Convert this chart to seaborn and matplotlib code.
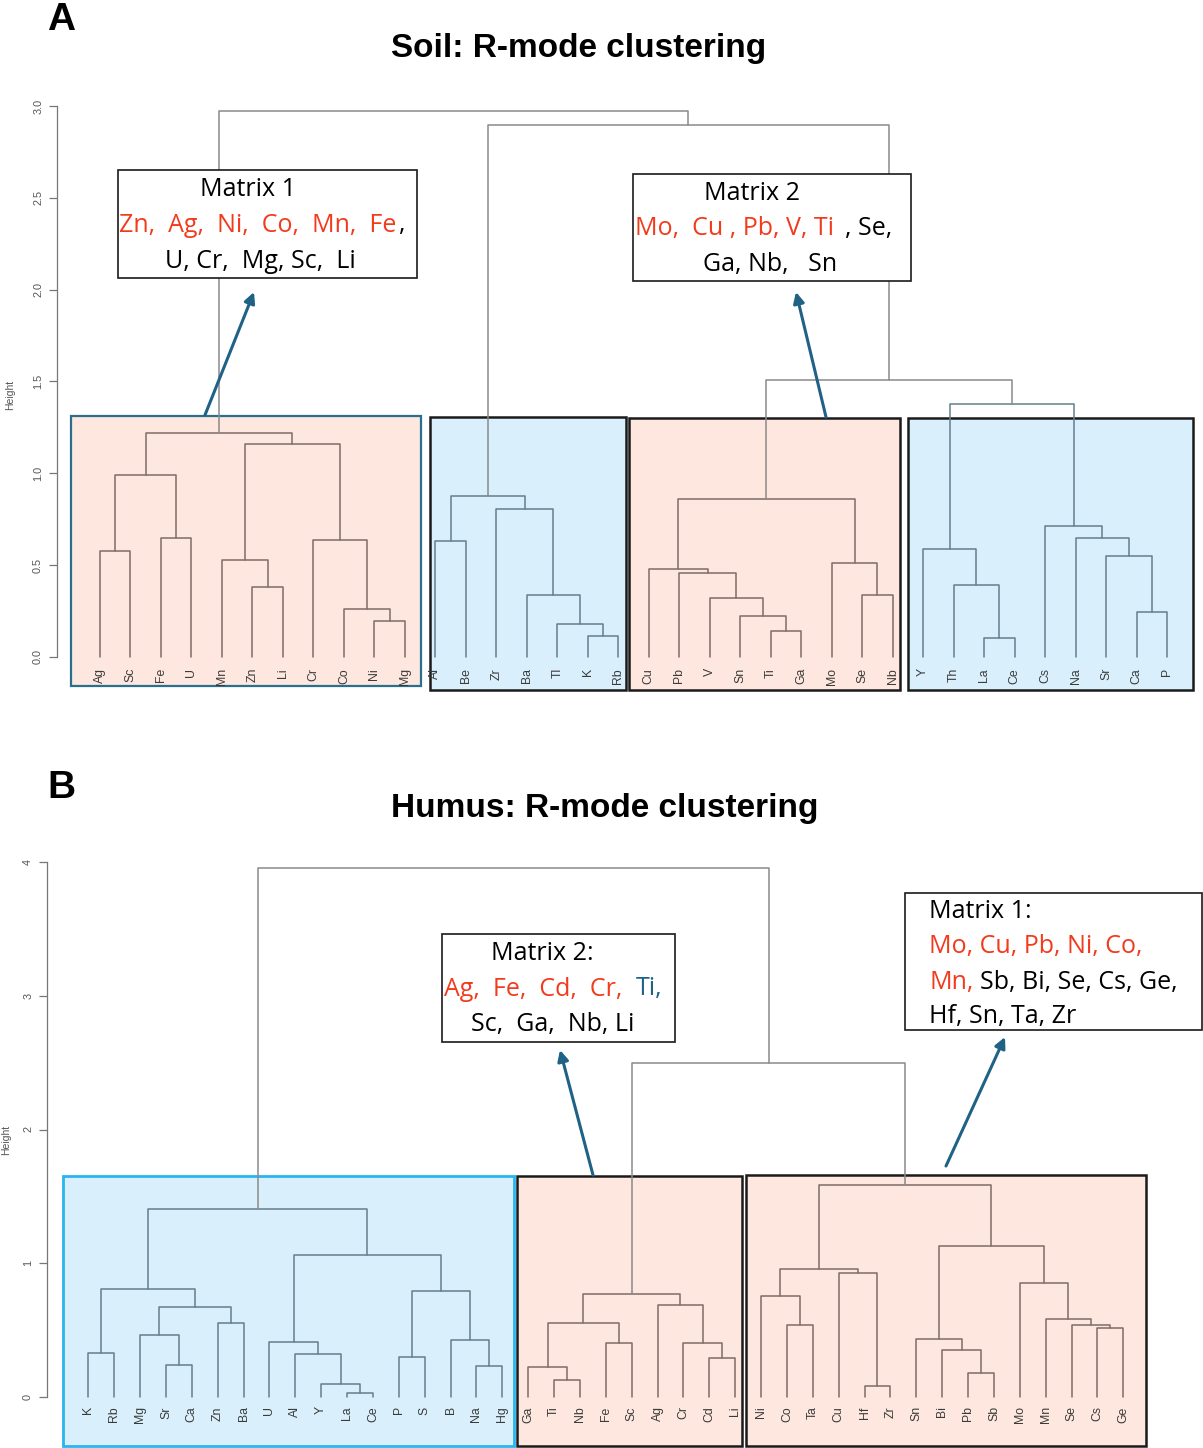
import numpy as np
import pandas as pd
import matplotlib
matplotlib.use("Agg")
import matplotlib.pyplot as plt
import matplotlib.transforms as mtransforms
from matplotlib.patches import Rectangle, FancyArrowPatch
import seaborn as sns

# ---------------- data: Soil (panel A) ----------------
soil_leaves = ["Ag", "Sc", "Fe", "U", "Mn", "Zn", "Li", "Cr", "Co", "Ni", "Mg",
               "Al", "Be", "Zr", "Ba", "Tl", "K", "Rb",
               "Cu", "Pb", "V", "Sn", "Ti", "Ga", "Mo", "Se", "Nb",
               "Y", "Th", "La", "Ce", "Cs", "Na", "Sr", "Ca", "P"]
soil_groups = [["Ag", "Sc", "Fe", "U", "Mn", "Zn", "Li", "Cr", "Co", "Ni", "Mg"],
               ["Al", "Be", "Zr", "Ba", "Tl", "K", "Rb"],
               ["Cu", "Pb", "V", "Sn", "Ti", "Ga", "Mo", "Se", "Nb"],
               ["Y", "Th", "La", "Ce", "Cs", "Na", "Sr", "Ca", "P"]]
soil_group_kind = ["pink", "blue", "pink", "blue"]
# merges: (child a, child b, height); int = index of an earlier merge
soil_merges = [
    ("Ag", "Sc", 0.575), ("Fe", "U", 0.648), (0, 1, 0.992),
    ("Zn", "Li", 0.380), ("Mn", 3, 0.528), ("Ni", "Mg", 0.196),
    ("Co", 5, 0.261), ("Cr", 6, 0.638), (4, 7, 1.160), (2, 8, 1.218),
    ("K", "Rb", 0.114), ("Tl", 10, 0.181), ("Ba", 11, 0.335),
    ("Zr", 12, 0.804), ("Al", "Be", 0.631), (14, 13, 0.876),
    ("Ti", "Ga", 0.141), ("Sn", 16, 0.224), ("V", 17, 0.320),
    ("Pb", 18, 0.458), ("Cu", 19, 0.481), ("Se", "Nb", 0.340),
    ("Mo", 21, 0.510), (20, 22, 0.862),
    ("La", "Ce", 0.106), ("Th", 24, 0.391), ("Y", 25, 0.590),
    ("Ca", "P", 0.245), ("Sr", 27, 0.550), ("Na", 28, 0.650),
    ("Cs", 29, 0.715), (26, 30, 1.376), (23, 31, 1.508),
    (15, 32, 2.895), (9, 33, 2.972),
]
soil_ticks = [0.0, 0.5, 1.0, 1.5, 2.0, 2.5, 3.0]

# ---------------- data: Humus (panel B) ----------------
humus_leaves = ["K", "Rb", "Mg", "Sr", "Ca", "Zn", "Ba", "U", "Al", "Y", "La", "Ce",
                "P", "S", "B", "Na", "Hg",
                "Ga", "Ti", "Nb", "Fe", "Sc", "Ag", "Cr", "Cd", "Li",
                "Ni", "Co", "Ta", "Cu", "Hf", "Zr", "Sn", "Bi", "Pb", "Sb",
                "Mo", "Mn", "Se", "Cs", "Ge"]
humus_groups = [["K", "Rb", "Mg", "Sr", "Ca", "Zn", "Ba", "U", "Al", "Y", "La", "Ce",
                 "P", "S", "B", "Na", "Hg"],
                ["Ga", "Ti", "Nb", "Fe", "Sc", "Ag", "Cr", "Cd", "Li"],
                ["Ni", "Co", "Ta", "Cu", "Hf", "Zr", "Sn", "Bi", "Pb", "Sb",
                 "Mo", "Mn", "Se", "Cs", "Ge"]]
humus_group_kind = ["blue", "pink", "pink"]
humus_merges = [
    ("K", "Rb", 0.327), ("Sr", "Ca", 0.239), ("Mg", 1, 0.464),
    ("Zn", "Ba", 0.551), (2, 3, 0.671), (0, 4, 0.810),
    ("La", "Ce", 0.027), ("Y", 6, 0.095), ("Al", 7, 0.319), ("U", 8, 0.414),
    ("P", "S", 0.297), ("Na", "Hg", 0.234), ("B", 11, 0.424), (10, 12, 0.790),
    (9, 13, 1.059), (5, 14, 1.403),
    ("Ti", "Nb", 0.127), ("Ga", 16, 0.227), ("Fe", "Sc", 0.401), (17, 18, 0.551),
    ("Cd", "Li", 0.292), ("Cr", 20, 0.401), ("Ag", 21, 0.690), (19, 22, 0.770),
    ("Co", "Ta", 0.536), ("Ni", 24, 0.755), ("Hf", "Zr", 0.082), ("Cu", 26, 0.925),
    (25, 27, 0.959), ("Pb", "Sb", 0.177), ("Bi", 29, 0.349), ("Sn", 30, 0.431),
    ("Cs", "Ge", 0.518), ("Se", 32, 0.541), ("Mn", 33, 0.581), ("Mo", 34, 0.855),
    (31, 35, 1.131), (28, 36, 1.583), (23, 37, 2.497), (15, 38, 3.955),
]
humus_ticks = [0, 1, 2, 3, 4]

# ---------------- figure setup ----------------
sns.set_theme(style="white")
plt.rcParams["font.family"] = ["Liberation Sans", "DejaVu Sans"]

W, H = 1203, 1448
fig = plt.figure(figsize=(W / 100, H / 100), dpi=100)
fig.patch.set_facecolor("white")
pix = mtransforms.Affine2D().scale(1 / W, -1 / H).translate(0, 1) + fig.transFigure

LINE_COL = {"pink": "#7f6c68", "blue": "#647e8c", "top": "#8a8a8a"}
FILL = {"pink": "#fde7df", "blue": "#d9f0fc"}
RED = "#f23a1c"
ARROW = "#1f6286"
TXTFONT = ["Open Sans", "DejaVu Sans"]


def px_axes(l, t, r, b):
    return fig.add_axes([l / W, 1 - b / H, (r - l) / W, (b - t) / H])


def tree_frame(leaves, merges, groups, kinds):
    pos = {n: i + 1 for i, n in enumerate(leaves)}
    nx, nh, nl = [], [], []
    rows = []

    def get(c):
        if isinstance(c, str):
            return pos[c], 0.0, {c}
        return nx[c], nh[c], nl[c]

    for k, (a, b, h) in enumerate(merges):
        xa, ha, la = get(a)
        xb, hb, lb = get(b)
        s = la | lb
        kind = "top"
        for g, kd in zip(groups, kinds):
            if s <= set(g):
                kind = kd
        nx.append((xa + xb) / 2)
        nh.append(h)
        nl.append(s)
        for j, (x, y) in enumerate([(xa, ha), (xa, h), (xb, h), (xb, hb)]):
            rows.append({"seg": k, "order": j, "x": x, "y": y, "grp": kind})
    return pd.DataFrame(rows)


def draw_dendro(ax, leaves, merges, groups, kinds, ticks, ticklabels, label_off):
    df = tree_frame(leaves, merges, groups, kinds)
    sns.lineplot(data=df, x="x", y="y", units="seg", estimator=None, sort=False,
                 hue="grp", palette=LINE_COL, legend=False, ax=ax,
                 linewidth=1.1, zorder=3)
    for i, n in enumerate(leaves):
        ax.text(i + 1, -label_off, n, rotation=90, ha="center", va="top",
                fontsize=8.8, color="#3a3a3a", zorder=4)
    ax.set_facecolor("none")
    ax.set_xlabel("")
    ax.set_ylabel("")
    ax.set_xticks([])
    for s in ["top", "right", "bottom"]:
        ax.spines[s].set_visible(False)
    ax.spines["left"].set_bounds(ticks[0], ticks[-1])
    ax.spines["left"].set_color("#777777")
    ax.spines["left"].set_linewidth(0.9)
    ax.set_yticks(ticks)
    ax.set_yticklabels(ticklabels, rotation=90, va="center", fontsize=7.8, color="#555555")
    ax.tick_params(axis="y", which="both", left=True, length=6, width=0.9,
                   color="#777777", pad=4, direction="out")


def box(ax, l, t, r, b, fc, ec, lw, z=1):
    ax.add_patch(Rectangle((l, b), r - l, t - b, transform=pix, facecolor=fc,
                           edgecolor=ec, linewidth=lw, zorder=z, clip_on=False))


def textbox(ax, l, t, r, b):
    ax.add_patch(Rectangle((l, b), r - l, t - b, transform=pix, facecolor="white",
                           edgecolor="#1a1a1a", linewidth=1.2, zorder=6, clip_on=False))


def seg_text(ax, x, y, s, color="black", size=18):
    ax.text(x, y, s, transform=pix, ha="left", va="center", fontsize=size,
            color=color, family=TXTFONT, zorder=7, clip_on=False)


def arrow(ax, p0, p1):
    ax.add_patch(FancyArrowPatch(p0, p1, transform=pix, arrowstyle="-|>",
                                 mutation_scale=16, color=ARROW, linewidth=2.2,
                                 zorder=8, clip_on=False, shrinkA=0, shrinkB=0))


# ---------------- panel A ----------------
axA = px_axes(57, 90, 1203, 700)
draw_dendro(axA, soil_leaves, soil_merges, soil_groups, soil_group_kind,
            soil_ticks, [f"{t:.1f}" for t in soil_ticks], 0.06)
axA.set_xlim(1 - 43 / 30.486, 1 + 1103 / 30.486)
axA.set_ylim(-(700 - 657) / 183.67, (657 - 90) / 183.67)

box(axA, 71, 416, 421, 686, FILL["pink"], "#2b6f8e", 1.6)
box(axA, 430, 417, 626, 690, FILL["blue"], "#1a1a1a", 1.8)
box(axA, 629, 418, 900, 690, FILL["pink"], "#1a1a1a", 1.8)
box(axA, 908, 418, 1193, 690, FILL["blue"], "#1a1a1a", 1.8)

textbox(axA, 118, 170, 417, 278)
seg_text(axA, 200, 189, "Matrix 1")
seg_text(axA, 119, 225, "Zn,  Ag,  Ni,  Co,  Mn,  Fe", RED)
seg_text(axA, 399, 225, ",")
seg_text(axA, 165, 261, "U, Cr,  Mg, Sc,  Li")

textbox(axA, 633, 174, 911, 281)
seg_text(axA, 704, 193, "Matrix 2")
seg_text(axA, 635, 229, "Mo,  Cu , Pb, V, Ti", RED)
seg_text(axA, 845, 229, ", Se,")
seg_text(axA, 703, 264, "Ga, Nb,   Sn")

arrow(axA, (205, 415), (254, 292))
arrow(axA, (826, 417), (796, 292))

fig.text(10 / W, 1 - 395 / H, "Height", rotation=90, ha="center", va="center",
         fontsize=7.5, color="#555555")
fig.text(61 / W, 1 - 20 / H, "A", ha="center", va="center", fontsize=28,
         fontweight="bold", color="black")
fig.text(579 / W, 1 - 48 / H, "Soil: R-mode clustering", ha="center", va="center",
         fontsize=24, fontweight="bold", color="black")

# ---------------- panel B ----------------
axB = px_axes(47, 850, 1203, 1448)
draw_dendro(axB, humus_leaves, humus_merges, humus_groups, humus_group_kind,
            humus_ticks, [str(t) for t in humus_ticks], 0.07)
axB.set_xlim(1 - 41.3 / 25.875, 1 + 1114.7 / 25.875)
axB.set_ylim(-(1448 - 1397) / 133.75, (1397 - 850) / 133.75)

box(axB, 63, 1176, 514, 1446, FILL["blue"], "#29b5ef", 2.0)
box(axB, 517, 1176, 742, 1446, FILL["pink"], "#1a1a1a", 1.8)
box(axB, 746, 1175, 1146, 1446, FILL["pink"], "#1a1a1a", 1.8)

textbox(axB, 442, 934, 675, 1042)
seg_text(axB, 491, 953, "Matrix 2:")
seg_text(axB, 444, 989, "Ag,  Fe,  Cd,  Cr,", RED)
seg_text(axB, 636, 989, "Ti,", ARROW)
seg_text(axB, 471, 1024, "Sc,  Ga,  Nb, Li")

textbox(axB, 905, 893, 1202, 1030)
seg_text(axB, 929, 911, "Matrix 1:")
seg_text(axB, 929, 946, "Mo, Cu, Pb, Ni, Co,", RED)
seg_text(axB, 929, 982, "Mn,", RED)
seg_text(axB, 980, 982, "Sb, Bi, Se, Cs, Ge,")
seg_text(axB, 929, 1017, "Hf, Sn, Ta, Zr")

arrow(axB, (593, 1175), (560, 1050))
arrow(axB, (946, 1166), (1005, 1037))

fig.text(6 / W, 1 - 1140 / H, "Height", rotation=90, ha="center", va="center",
         fontsize=7.5, color="#555555")
fig.text(61 / W, 1 - 788 / H, "B", ha="center", va="center", fontsize=28,
         fontweight="bold", color="black")
fig.text(605 / W, 1 - 809 / H, "Humus: R-mode clustering", ha="center", va="center",
         fontsize=24, fontweight="bold", color="black")

fig.savefig("out.png", dpi=100, facecolor="white")
